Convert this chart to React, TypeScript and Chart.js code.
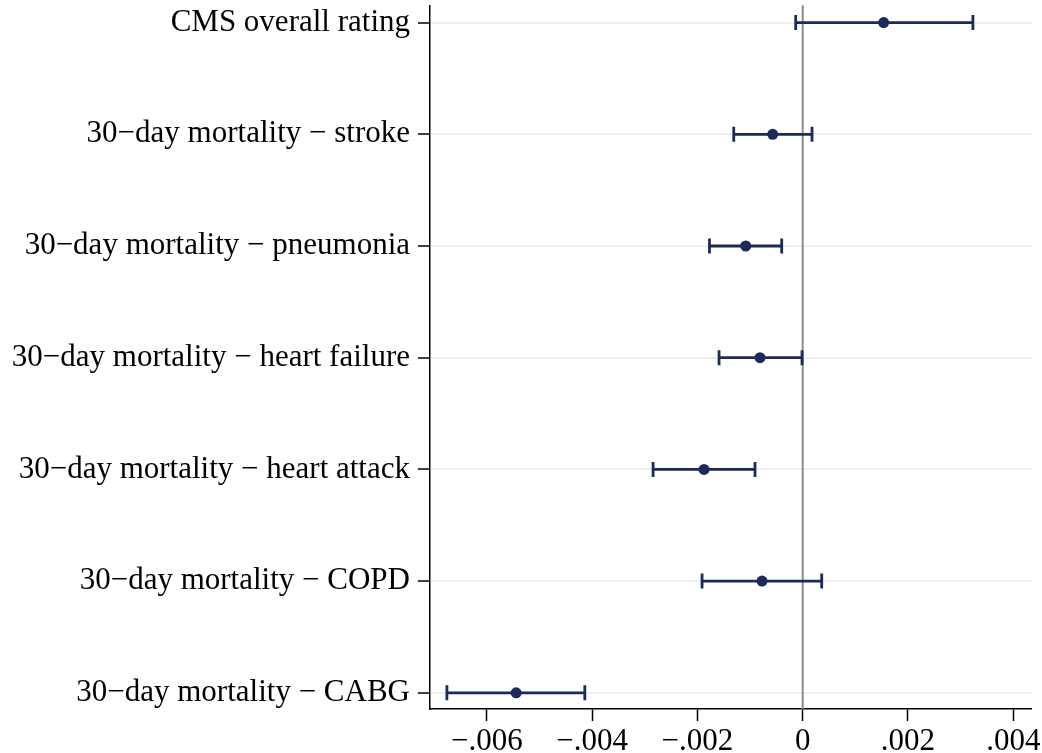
import React, { useEffect, useRef } from "react";
import { Chart, registerables } from "chart.js";

Chart.register(...registerables);

const categories = [
  "CMS overall rating",
  "30\u2212day mortality \u2212 stroke",
  "30\u2212day mortality \u2212 pneumonia",
  "30\u2212day mortality \u2212 heart failure",
  "30\u2212day mortality \u2212 heart attack",
  "30\u2212day mortality \u2212 COPD",
  "30\u2212day mortality \u2212 CABG",
];
const estimates = [0.001538, -0.00057, -0.001082, -0.000811, -0.001874, -0.000773, -0.005443];
const lower = [-0.000133, -0.00131, -0.001771, -0.001589, -0.002842, -0.001912, -0.006759];
const upper = [0.003233, 0.000177, -0.000399, -0.000013, -0.000906, 0.000361, -0.004139];
const xTickValues = [-0.006, -0.004, -0.002, 0, 0.002, 0.004];
const xTickLabels = ["\u2212.006", "\u2212.004", "\u2212.002", "0", ".002", ".004"];

const NAVY = "#1b2a58";
const FONT = "'Liberation Serif', 'Times New Roman', serif";
const W = 1042;
const H = 753;
const PLOT_TOP = 5;

function buildChart(canvas: HTMLCanvasElement) {
  const zeroLine = {
    id: "zeroLine",
    beforeDatasetsDraw(chart: any) {
      const { ctx, chartArea } = chart;
      const x = chart.scales.x.getPixelForValue(0);
      ctx.save();
      ctx.strokeStyle = "#8c8c8c";
      ctx.lineWidth = 2;
      ctx.beginPath();
      ctx.moveTo(x, chartArea.top);
      ctx.lineTo(x, chartArea.bottom);
      ctx.stroke();
      ctx.restore();
    },
  };

  const ciSets = categories.map((_, i) => ({
    type: "line" as const,
    data: [
      { x: lower[i], y: i + 1 },
      { x: upper[i], y: i + 1 },
    ],
    borderColor: NAVY,
    borderWidth: 2.8,
    pointStyle: "line" as const,
    pointRotation: 90,
    pointRadius: 7.5,
    pointHoverRadius: 7.5,
    pointBorderWidth: 2.8,
    pointBorderColor: NAVY,
    pointBackgroundColor: NAVY,
    fill: false,
    order: 2,
  }));

  return new Chart(canvas, {
    type: "scatter",
    data: {
      datasets: [
        {
          type: "scatter",
          data: estimates.map((v, i) => ({ x: v, y: i + 1 })),
          backgroundColor: NAVY,
          borderColor: NAVY,
          borderWidth: 0,
          pointRadius: 5.5,
          pointHoverRadius: 5.5,
          order: 0,
        } as any,
        ...(ciSets as any[]),
      ],
    },
    options: {
      responsive: false,
      maintainAspectRatio: false,
      animation: false,
      events: [],
      layout: { padding: { top: PLOT_TOP, right: 10, left: 0, bottom: 0 } },
      plugins: { legend: { display: false }, tooltip: { enabled: false } },
      scales: {
        x: {
          type: "linear",
          min: -0.00708,
          max: 0.00435,
          afterBuildTicks: (axis: any) => {
            axis.ticks = xTickValues.map((v) => ({ value: v }));
          },
          afterFit: (scale: any) => {
            scale.height = 44;
            scale.paddingLeft = 0;
            scale.paddingRight = 0;
          },
          ticks: {
            autoSkip: false,
            maxRotation: 0,
            padding: 2,
            color: "#000",
            font: { family: FONT, size: 31 },
            callback: (v: any) => {
              const idx = xTickValues.findIndex((t) => Math.abs(t - v) < 1e-9);
              return idx >= 0 ? xTickLabels[idx] : "";
            },
          },
          grid: {
            display: true,
            drawOnChartArea: false,
            drawTicks: true,
            tickLength: 12,
            tickColor: "#000",
            tickWidth: 1.5,
          },
          border: { display: true, color: "#000", width: 1.5 },
        },
        y: {
          type: "linear",
          reverse: true,
          min: 0.845,
          max: 7.145,
          afterBuildTicks: (axis: any) => {
            axis.ticks = categories.map((_, i) => ({ value: i + 1 }));
          },
          afterFit: (scale: any) => {
            scale.width = 430;
            scale.paddingTop = 0;
            scale.paddingBottom = 0;
          },
          ticks: {
            autoSkip: false,
            padding: 8,
            color: "#000",
            font: { family: FONT, size: 31 },
            callback: (v: any) => categories[Math.round(v) - 1] ?? "",
          },
          grid: {
            display: true,
            drawOnChartArea: true,
            color: "#e9f1f3",
            lineWidth: 2,
            drawTicks: true,
            tickLength: 12,
            tickColor: "#000",
            tickWidth: 1.5,
          },
          border: { display: true, color: "#000", width: 1.5 },
        },
      },
    },
    plugins: [zeroLine],
  });
}

export default function App() {
  const ref = useRef<HTMLCanvasElement>(null);

  useEffect(() => {
    const canvas = ref.current;
    if (!canvas) return;
    canvas.width = W;
    canvas.height = H;
    canvas.style.top = "0px";
    let chart = buildChart(canvas);
    const extra = Math.round(chart.chartArea.top - PLOT_TOP);
    if (extra > 0) {
      chart.destroy();
      canvas.width = W;
      canvas.height = H + extra;
      canvas.style.width = W + "px";
      canvas.style.height = H + extra + "px";
      canvas.style.top = -extra + "px";
      chart = buildChart(canvas);
    }
    return () => chart.destroy();
  }, []);

  return (
    <div style={{ position: "absolute", left: 0, top: 0, width: W, height: H, overflow: "hidden", background: "#fff" }}>
      <canvas ref={ref} width={W} height={H} style={{ display: "block", position: "relative" }} />
    </div>
  );
}
